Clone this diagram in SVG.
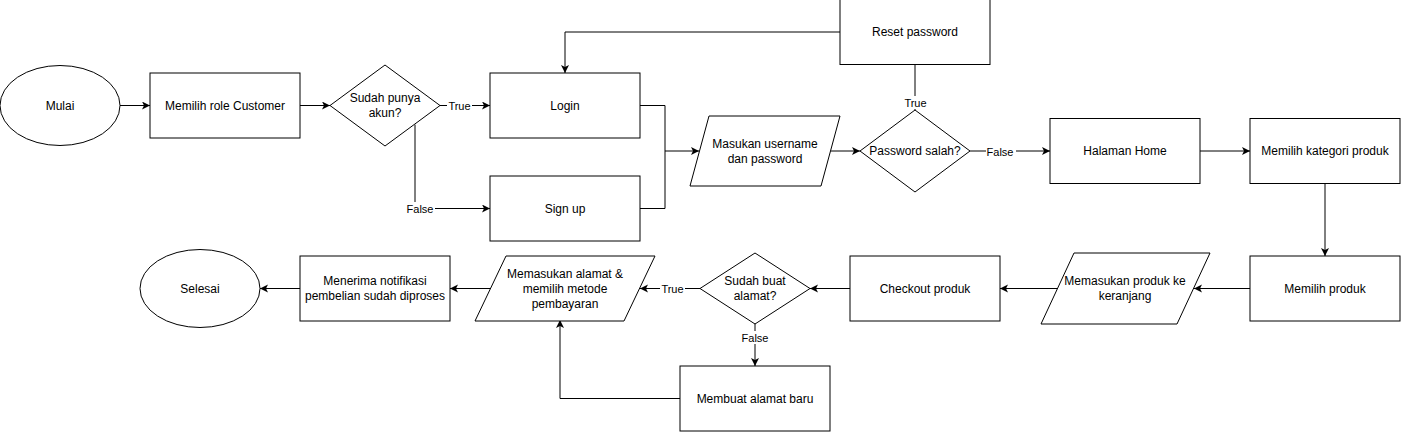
<svg xmlns="http://www.w3.org/2000/svg" width="1401" height="433" viewBox="0 0 1401 433">
<style>
.s{fill:#fff;stroke:#000;stroke-width:1}
.t{font-family:"Liberation Sans",Arial,sans-serif;font-size:12px;fill:#000;text-anchor:middle;dominant-baseline:central}
.c{fill:none;stroke:#000;stroke-width:1}
.a{marker-end:url(#arr)}
.l{font-family:"Liberation Sans",Arial,sans-serif;font-size:11px;fill:#000;text-anchor:middle;dominant-baseline:central}
.lb{fill:#fff}
</style>
<defs>
<marker id="arr" markerUnits="userSpaceOnUse" markerWidth="10" markerHeight="10" refX="8" refY="4" orient="auto">
<path d="M0,0 L8,4 L0,8 L2,4 Z" fill="#000"/>
</marker>
</defs>
<rect width="1401" height="433" fill="#fff"/>
<g id="connectors">
<path class="c a" d="M120,105.5 H150"/>
<path class="c a" d="M300,105.5 H330"/>
<path class="c a" d="M440,105.5 H490"/>
<path class="c a" d="M415,124.6 V208.5 H490"/>
<path class="c a" d="M640,105.5 H665 V151 H699"/>
<path class="c" d="M640,208.5 H665 V151"/>
<path class="c a" d="M831,151 H860"/>
<path class="c a" d="M970,151 H1050"/>
<path class="c" d="M915,110 V65"/>
<path class="c a" d="M840,32 H565 V73"/>
<path class="c a" d="M1200,151 H1250"/>
<path class="c a" d="M1325,183 V256"/>
<path class="c a" d="M1250,288.5 H1194"/>
<path class="c a" d="M1057,288.5 H1000"/>
<path class="c a" d="M850,288.5 H810"/>
<path class="c a" d="M700,288.5 H640"/>
<path class="c a" d="M755,323 V366"/>
<path class="c a" d="M680,398.5 H560 V320"/>
<path class="c a" d="M490,288.5 H450"/>
<path class="c a" d="M300,288.5 H260"/>
<rect class="lb" x="447" y="99" width="25" height="13"/>
<text class="l" x="459.5" y="105.5">True</text>
<rect class="lb" x="405" y="202" width="30" height="13"/>
<text class="l" x="420" y="208.5">False</text>
<rect class="lb" x="903" y="96" width="25" height="13"/>
<text class="l" x="915.5" y="102.5">True</text>
<rect class="lb" x="986" y="145" width="30" height="13"/>
<text class="l" x="1000" y="151.5">False</text>
<rect class="lb" x="660" y="282" width="25" height="13"/>
<text class="l" x="672.5" y="288.5">True</text>
<rect class="lb" x="740" y="331" width="30" height="13"/>
<text class="l" x="755" y="337.5">False</text>
</g>
<g id="mulai"><ellipse class="s" cx="60" cy="105.5" rx="60" ry="40"/><text class="t" x="60" y="105.5">Mulai</text></g>
<g id="role"><rect class="s" x="150" y="73" width="150" height="65"/><text class="t" x="225" y="105.5">Memilih role Customer</text></g>
<g id="punya-akun"><polygon class="s" points="385,65 440,105.5 385,146 330,105.5"/><text class="t" x="385" y="98">Sudah punya</text><text class="t" x="385" y="113">akun?</text></g>
<g id="login"><rect class="s" x="490" y="73" width="150" height="65"/><text class="t" x="565" y="105.5">Login</text></g>
<g id="signup"><rect class="s" x="490" y="176" width="150" height="65"/><text class="t" x="565" y="208.5">Sign up</text></g>
<g id="reset"><rect class="s" x="840" y="-0.5" width="150" height="65"/><text class="t" x="915" y="32">Reset password</text></g>
<g id="masukan-username"><polygon class="s" points="709,116 840,116 821,186 690,186"/><text class="t" x="765" y="143.5">Masukan username</text><text class="t" x="765" y="158.5">dan password</text></g>
<g id="password-salah"><polygon class="s" points="915,110 970,151 915,192 860,151"/><text class="t" x="915" y="151">Password salah?</text></g>
<g id="home"><rect class="s" x="1050" y="118.5" width="150" height="65"/><text class="t" x="1125" y="151">Halaman Home</text></g>
<g id="kategori"><rect class="s" x="1250" y="118.5" width="150" height="65"/><text class="t" x="1325" y="151">Memilih kategori produk</text></g>
<g id="produk"><rect class="s" x="1250" y="256" width="150" height="65"/><text class="t" x="1325" y="288.5">Memilih produk</text></g>
<g id="keranjang"><polygon class="s" points="1074,253 1210,253 1177,324 1041,324"/><text class="t" x="1125" y="281">Memasukan produk ke</text><text class="t" x="1125" y="296">keranjang</text></g>
<g id="checkout"><rect class="s" x="850" y="256" width="150" height="65"/><text class="t" x="925" y="288.5">Checkout produk</text></g>
<g id="buat-alamat"><polygon class="s" points="755,253 810,288.5 755,324 700,288.5"/><text class="t" x="755" y="281">Sudah buat</text><text class="t" x="755" y="296">alamat?</text></g>
<g id="alamat-baru"><rect class="s" x="680" y="366" width="150" height="65"/><text class="t" x="755" y="398.5">Membuat alamat baru</text></g>
<g id="memasukan-alamat"><polygon class="s" points="506,256 655,256 624,321 475,321"/><text class="t" x="565" y="274">Memasukan alamat &amp;</text><text class="t" x="565" y="289">memilih metode</text><text class="t" x="565" y="304">pembayaran</text></g>
<g id="notifikasi"><rect class="s" x="300" y="256" width="150" height="65"/><text class="t" x="375" y="281">Menerima notifikasi</text><text class="t" x="375" y="296">pembelian sudah diproses</text></g>
<g id="selesai"><ellipse class="s" cx="200" cy="288.5" rx="60" ry="39"/><text class="t" x="200" y="288.5">Selesai</text></g>
</svg>
